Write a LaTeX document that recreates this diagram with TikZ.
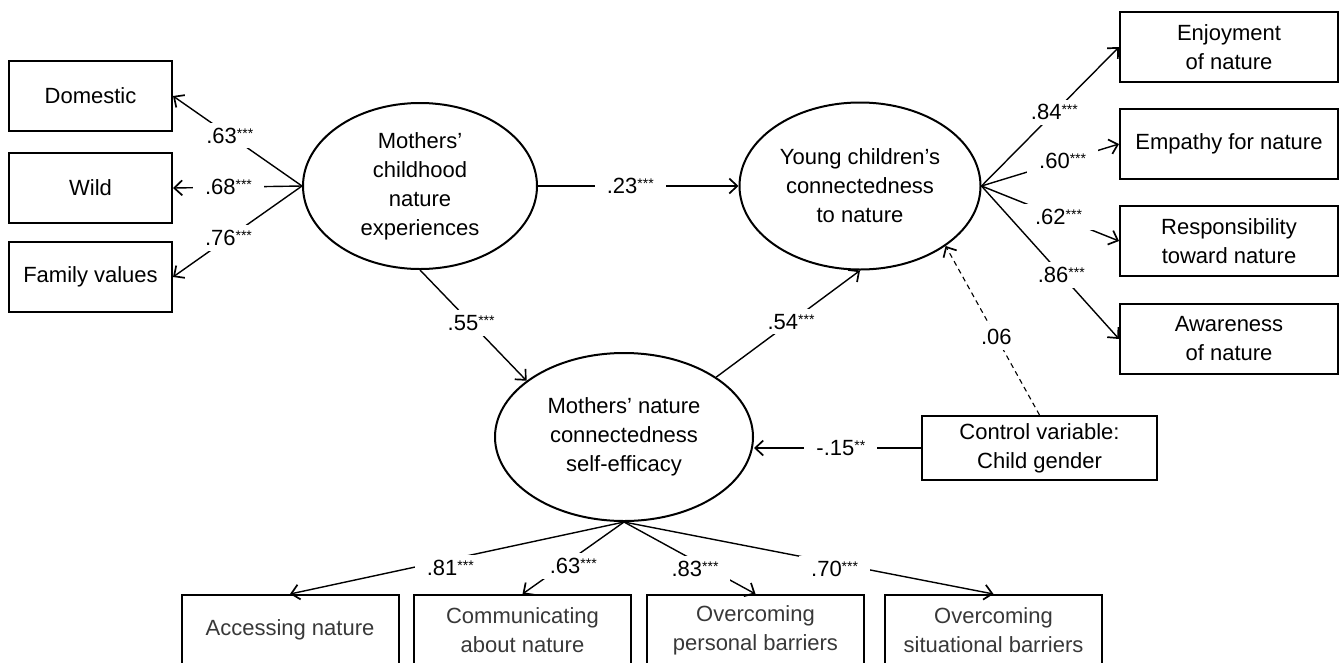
\documentclass[tikz,border=0pt]{standalone}
\usepackage{fontspec}
\setmainfont{Liberation Sans}
\usepackage{tikz}
\usetikzlibrary{positioning, arrows.meta, shapes.geometric}
\newcommand{\pstar}[1]{\raisebox{5pt}{\fontsize{14}{14}\selectfont #1}}

\begin{document}
\begin{tikzpicture}[x=1pt, y=-1pt, >={Straight Barb[length=8pt,width=15pt,line width=1.7pt]},
  font=\fontsize{22}{29}\selectfont,
  latent/.style={draw, ellipse, line width=2pt, inner sep=0pt, align=center},
  obs/.style={draw, rectangle, line width=2pt, inner sep=0pt, align=center, minimum height=70pt},
  lnk/.style={->, line width=1.4pt},
  coef/.style={fill=white, inner xsep=12pt, inner ysep=5pt}]
  \useasboundingbox (0,0) rectangle (1341,662);

  % latent variables
  \node[latent, minimum width=234pt, minimum height=166pt] (mce) at (420,186) {Mothers’\\childhood\\nature\\experiences};
  \node[latent, minimum width=241pt, minimum height=167pt] (ycn) at (860,186) {Young children’s\\connectedness\\to nature};
  \node[latent, minimum width=258pt, minimum height=168pt] (mse) at (624,437) {Mothers’ nature\\connectedness\\self-efficacy};

  % childhood indicators
  \node[obs, minimum width=163pt] (dom) at (90.5,96) {Domestic};
  \node[obs, minimum width=163pt, below=20pt of dom] (wild) {Wild};
  \node[obs, minimum width=163pt, below=17pt of wild] (fam) {Family values};

  % child indicators
  \node[obs, minimum width=218pt] (enj) at (1229,47) {Enjoyment\\of nature};
  \node[obs, minimum width=218pt, below=25pt of enj] (emp) {Empathy for nature};
  \node[obs, minimum width=218pt, below=25pt of emp] (resp) {Responsibility\\toward nature};
  \node[obs, minimum width=218pt, below=26pt of resp] (awr) {Awareness\\of nature};

  % self-efficacy indicators
  \begin{scope}[every node/.append style={text=black!78}]
  \node[obs, minimum width=217pt] (acc) at (290,630) {Accessing nature};
  \node[obs, minimum width=217pt] (comm) at (522.5,630) {Communicating\\about nature};
  \node[obs, minimum width=217pt] (pers) at (755.5,630) {Overcoming\\personal barriers};
  \node[obs, minimum width=217pt] (sit) at (993.5,630) {Overcoming\\situational barriers};
  \end{scope}

  \node[obs, minimum width=235pt, minimum height=64pt] (ctrl) at (1039.5,448) {Control variable:\\Child gender};

  % loadings
  \draw[lnk] (mce.west) -- node[coef, pos=0.56] {.63\pstar{***}} (dom.east);
  \draw[lnk] (mce.west) -- node[coef, pos=0.57] {.68\pstar{***}} (wild.east);
  \draw[lnk] (mce.west) -- node[coef, pos=0.57] {.76\pstar{***}} (fam.east);
  \draw[lnk] (ycn.east) -- node[coef, pos=0.53] {.84\pstar{***}} (enj.west);
  \draw[lnk] (ycn.east) -- node[coef, pos=0.59] {.60\pstar{***}} (emp.west);
  \draw[lnk] (ycn.east) -- node[coef, pos=0.56] {.62\pstar{***}} (resp.west);
  \draw[lnk] (ycn.east) -- node[coef, pos=0.58] {.86\pstar{***}} (awr.west);
  \draw[lnk] (mse.south) -- node[coef, pos=0.52, yshift=-8pt] {.81\pstar{***}} (acc.north);
  \draw[lnk] (mse.south) -- node[coef, pos=0.5, yshift=-8pt] {.63\pstar{***}} (comm.north);
  \draw[lnk] (mse.south) -- node[coef, pos=0.54, yshift=-8pt] {.83\pstar{***}} (pers.north);
  \draw[lnk] (mse.south) -- node[coef, pos=0.57, yshift=-6pt] {.70\pstar{***}} (sit.north);

  % structural paths
  \draw[lnk] (mce.east) -- node[coef, pos=0.46] {.23\pstar{***}} (ycn.west);
  \draw[lnk] (mce.south) -- node[coef, pos=0.48] {.55\pstar{***}} (mse.150);
  \draw[lnk] (mse.33) -- node[coef, pos=0.52] {.54\pstar{***}} (ycn.south);
  \draw[lnk] (ctrl.west) -- node[coef, pos=0.48] {-.15\pstar{**}} (ctrl.west -| mse.east);
  \draw[lnk, line width=1.1pt, dash pattern=on 5pt off 4pt] (ctrl.north) -- node[coef, pos=0.46] {.06} (ycn.-35);
\end{tikzpicture}
\end{document}
